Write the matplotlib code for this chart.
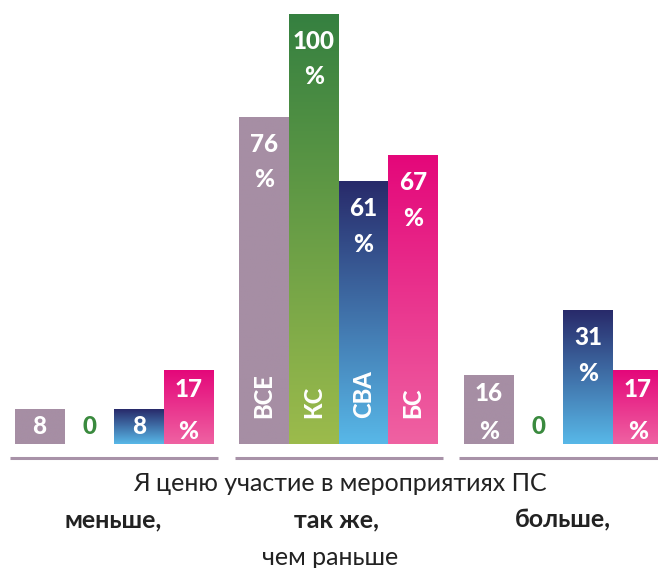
import numpy as np
import matplotlib
matplotlib.use("Agg")
import matplotlib.pyplot as plt
from matplotlib.colors import LinearSegmentedColormap

plt.rcParams['font.family'] = ['Lato', 'Open Sans', 'DejaVu Sans']

# data
groups = ['меньше,', 'так же,', 'больше,']
series = ['ВСЕ', 'КС', 'СВА', 'БС']
values = [
    [8, 0, 8, 17],
    [76, 100, 61, 67],
    [16, 0, 31, 17],
]
# top / bottom colours of each series (ВСЕ is flat)
top_colors = ['#a68ea4', '#358040', '#282a6a', '#e4077a']
bottom_colors = ['#a68ea4', '#9cbb4c', '#58b8e8', '#ef62a2']
zero_color = '#3a8a3e'

fig = plt.figure(figsize=(6.58, 5.68), dpi=100)
ax = fig.add_axes([0, 0, 1, 1])
ax.set_xlim(-0.507, 2.4205)
ax.set_ylim(-28.84, 103.26)
ax.axis('off')

w = 0.221
grad = np.linspace(1, 0, 256).reshape(-1, 1)
lab = dict(color='white', fontsize=17.5, fontweight='black', ha='center',
           va='center', zorder=3)

for g, vals in enumerate(values):
    for j, v in enumerate(vals):
        x = g + (j - 1.5) * w
        if v == 0:
            ax.text(x, 4, '0', color=zero_color, fontsize=17.5, fontweight='black',
                    ha='center', va='center')
            continue
        bar = ax.bar(x, v, width=w, color=top_colors[j], linewidth=0)[0]
        x0, bw, h = bar.get_x(), bar.get_width(), bar.get_height()
        cmap = LinearSegmentedColormap.from_list('c', [bottom_colors[j], top_colors[j]])
        ax.imshow(grad, cmap=cmap, extent=[x0, x0 + bw, 0, h], aspect='auto',
                  zorder=2, vmin=0, vmax=1)
        if v < 12:
            ax.text(x, v / 2, str(v), **lab)
        elif v < 25:
            ax.text(x, v - 4.3, str(v), **lab)
            ax.text(x, 3.0, '%', **lab)
        else:
            ax.text(x, v - 6.3, str(v), **lab)
            ax.text(x, v - 14.6, '%', **lab)
        if g == 1:
            ax.text(x, 6, series[j], color='white', fontsize=17, fontweight='black',
                    rotation=90, ha='center', va='bottom', zorder=3)
    ax.plot([g - 0.463, g + 0.463], [-3.3, -3.3], color='#a892a8', lw=2.2,
            solid_capstyle='butt')

fig.text(0.517, 0.149, 'Я ценю участие в мероприятиях ПС', fontsize=18,
         color='#222222', ha='center', va='center')
xs = [0.172, 0.512, 0.856]
for xp, name in zip(xs, groups):
    fig.text(xp, 0.084, name, fontsize=18, fontweight='bold', color='#222222',
             ha='center', va='center')
fig.text(0.502, 0.018, 'чем раньше', fontsize=18, color='#222222',
         ha='center', va='center')

fig.savefig('out.png', dpi=100)
